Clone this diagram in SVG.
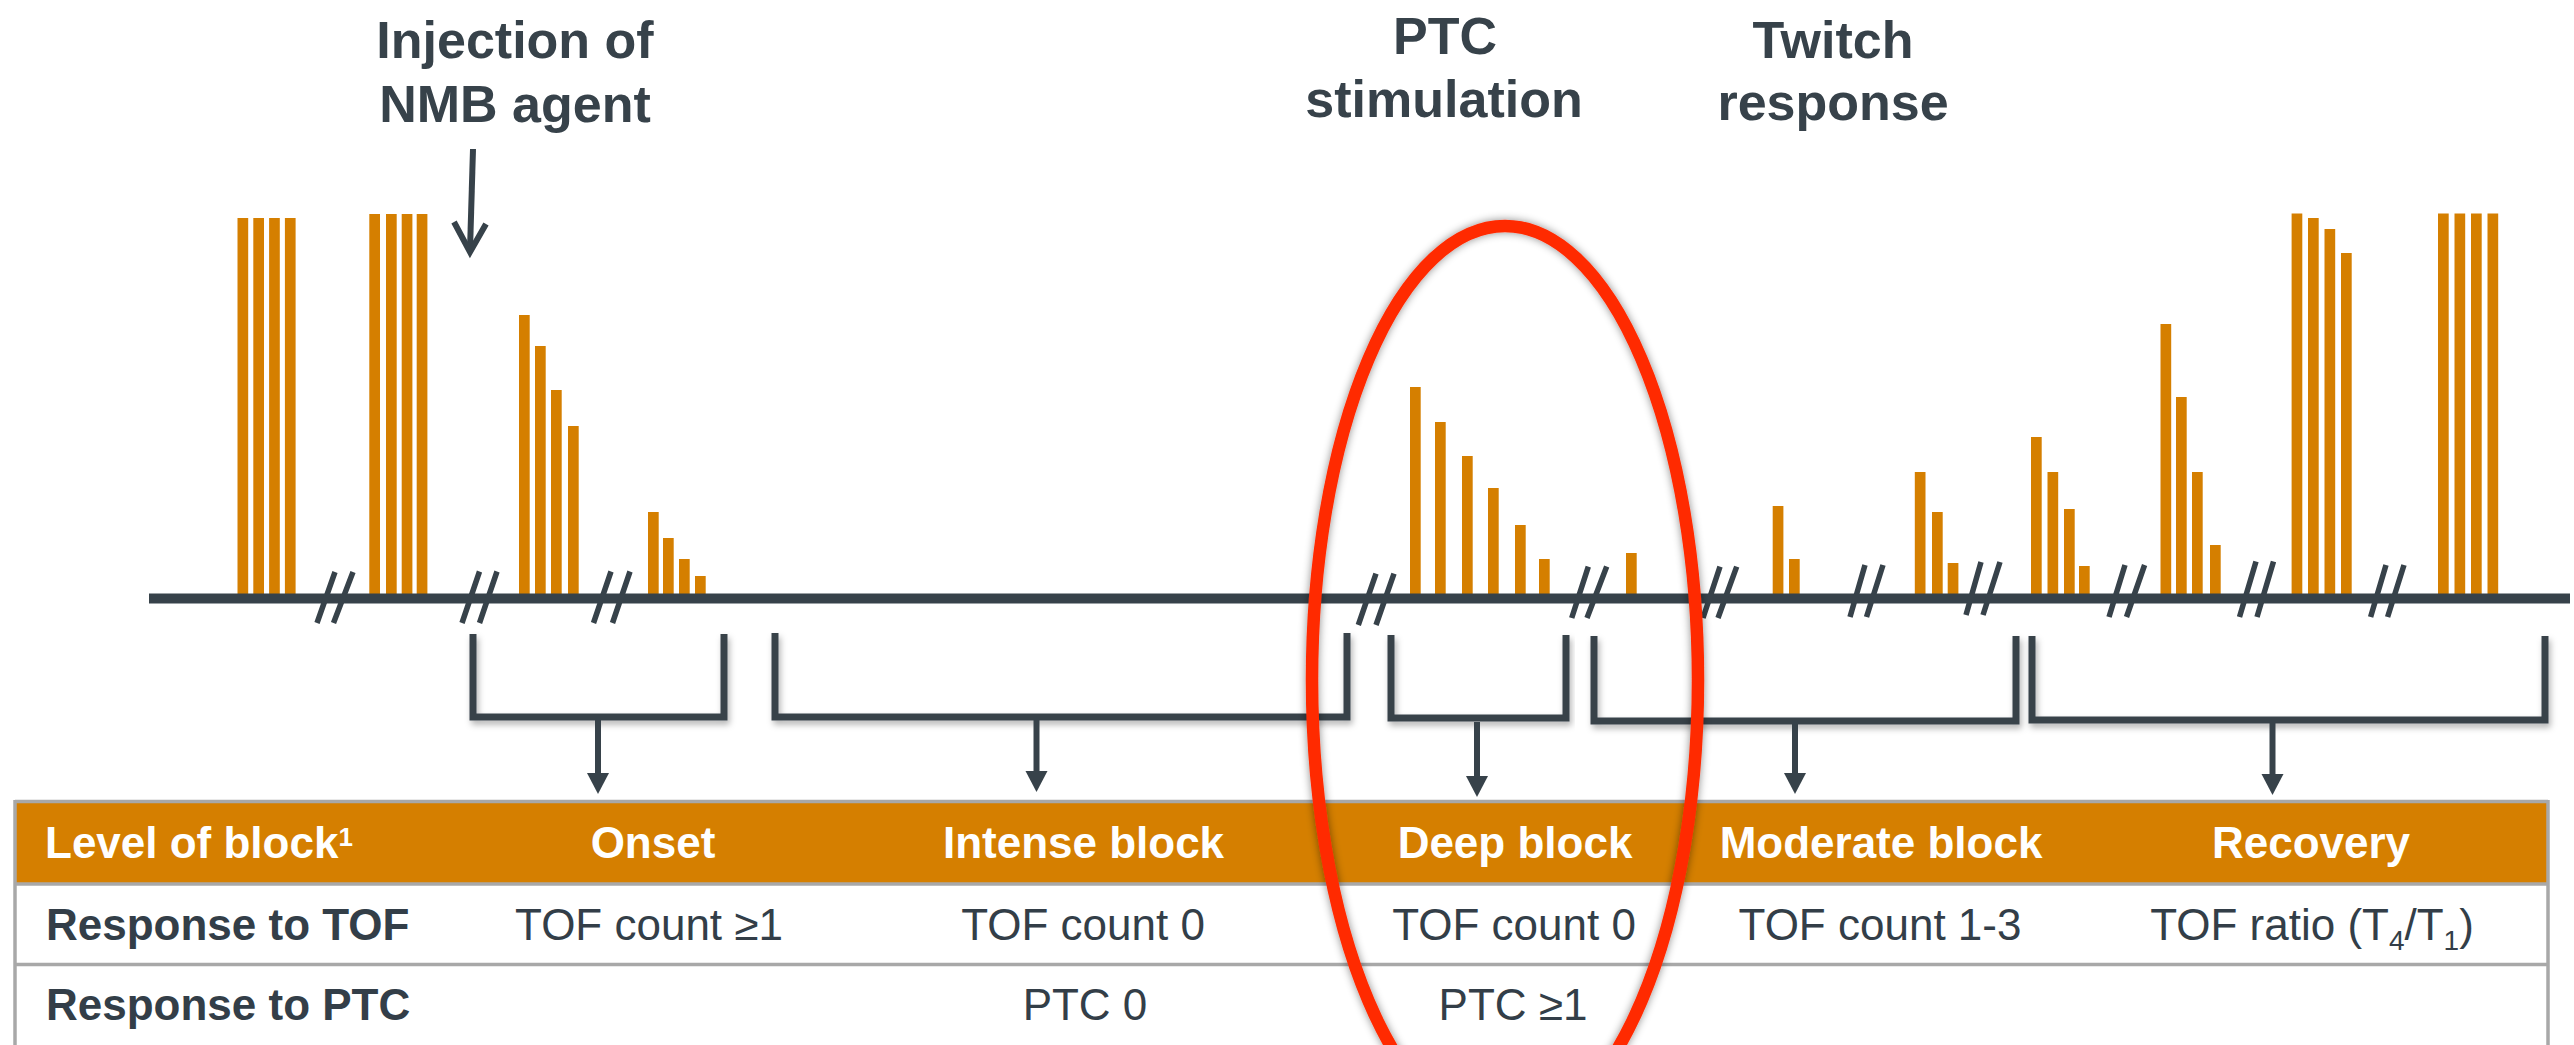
<svg xmlns="http://www.w3.org/2000/svg" width="2574" height="1045" viewBox="0 0 2574 1045">
  <style>
    .bar { fill: #D57F00; }
    .axis { stroke: #37424A; stroke-width: 10; fill: none; }
    .brk { stroke: #37424A; stroke-width: 5.5; fill: none; }
    .bracket { stroke: #37424A; stroke-width: 7; fill: none; stroke-linejoin: miter; filter: url(#shadow); }
    .shaft { stroke: #37424A; stroke-width: 6; fill: none; }
    .head { fill: #37424A; }
    .title { font-family: "Liberation Sans", Arial, sans-serif; font-weight: bold; font-size: 52px; fill: #37424A; text-anchor: middle; }
    .hdr { font-family: "Liberation Sans", Arial, sans-serif; font-weight: bold; font-size: 44px; fill: #FFFFFF; text-anchor: middle; }
    .rowlbl { font-family: "Liberation Sans", Arial, sans-serif; font-weight: bold; font-size: 44px; fill: #333E48; }
    .cell { font-family: "Liberation Sans", Arial, sans-serif; font-size: 44px; fill: #333E48; text-anchor: middle; }
    .grid { stroke: #A8A8A8; stroke-width: 3.5; fill: none; }
  </style>
  <defs>
    <filter id="shadow" x="-5%" y="-20%" width="110%" height="140%">
      <feDropShadow dx="2" dy="4" stdDeviation="3" flood-color="#000" flood-opacity="0.3"/>
    </filter>
    <filter id="glow" x="-20%" y="-20%" width="140%" height="140%">
      <feGaussianBlur in="SourceAlpha" stdDeviation="4" result="b"/>
      <feFlood flood-color="#000" flood-opacity="0.45"/>
      <feComposite in2="b" operator="in" result="s"/>
      <feMerge><feMergeNode in="s"/><feMergeNode in="SourceGraphic"/></feMerge>
    </filter>
  </defs>

  <rect width="2574" height="1045" fill="#FFFFFF"/>

  <!-- Top labels -->
  <g id="label-injection">
    <text class="title" x="515" y="58">Injection of</text>
    <text class="title" x="515" y="122">NMB agent</text>
    <line class="shaft" x1="473" y1="149" x2="470" y2="250"/>
    <polyline class="shaft" points="454,222 470,252 486,224"/>
  </g>
  <g id="label-ptc">
    <text class="title" x="1445" y="54">PTC</text>
    <text class="title" x="1444" y="117">stimulation</text>
  </g>
  <g id="label-twitch">
    <text class="title" x="1833" y="58">Twitch</text>
    <text class="title" x="1833" y="120">response</text>
  </g>

  <!-- Twitch response bars -->
  <g id="bars">
    <rect class="bar" x="237.5" y="218" width="10.7" height="380"/>
    <rect class="bar" x="253.3" y="218" width="10.7" height="380"/>
    <rect class="bar" x="269.1" y="218" width="10.7" height="380"/>
    <rect class="bar" x="284.9" y="218" width="10.7" height="380"/>

    <rect class="bar" x="369.3" y="214" width="10.7" height="384"/>
    <rect class="bar" x="386" y="214" width="10.7" height="384"/>
    <rect class="bar" x="401.7" y="214" width="10.7" height="384"/>
    <rect class="bar" x="416.7" y="214" width="10.7" height="384"/>

    <rect class="bar" x="519" y="315" width="10.7" height="283"/>
    <rect class="bar" x="535" y="346" width="10.7" height="252"/>
    <rect class="bar" x="551" y="390" width="10.7" height="208"/>
    <rect class="bar" x="568" y="426" width="10.7" height="172"/>

    <rect class="bar" x="648" y="512" width="10.7" height="86"/>
    <rect class="bar" x="663" y="538" width="10.7" height="60"/>
    <rect class="bar" x="679" y="559" width="10.7" height="39"/>
    <rect class="bar" x="695" y="576" width="10.7" height="22"/>

    <rect class="bar" x="1410" y="387" width="10.7" height="211"/>
    <rect class="bar" x="1435" y="422" width="10.7" height="176"/>
    <rect class="bar" x="1462" y="456" width="10.7" height="142"/>
    <rect class="bar" x="1488" y="488" width="10.7" height="110"/>
    <rect class="bar" x="1515" y="525" width="10.7" height="73"/>
    <rect class="bar" x="1539" y="559" width="10.7" height="39"/>

    <rect class="bar" x="1626" y="553" width="10.7" height="45"/>

    <rect class="bar" x="1772.7" y="506" width="10.7" height="92"/>
    <rect class="bar" x="1789" y="559" width="10.7" height="39"/>

    <rect class="bar" x="1914.8" y="472" width="10.7" height="126"/>
    <rect class="bar" x="1932" y="512" width="10.7" height="86"/>
    <rect class="bar" x="1947.7" y="563" width="10.7" height="35"/>

    <rect class="bar" x="2031" y="437" width="10.7" height="161"/>
    <rect class="bar" x="2047.5" y="472" width="10.7" height="126"/>
    <rect class="bar" x="2064" y="509" width="10.7" height="89"/>
    <rect class="bar" x="2079" y="566" width="10.7" height="32"/>

    <rect class="bar" x="2160.5" y="324" width="10.7" height="274"/>
    <rect class="bar" x="2176" y="397" width="10.7" height="201"/>
    <rect class="bar" x="2192" y="472" width="10.7" height="126"/>
    <rect class="bar" x="2210" y="545" width="10.7" height="53"/>

    <rect class="bar" x="2291.6" y="213.5" width="10.7" height="384.5"/>
    <rect class="bar" x="2308" y="218" width="10.7" height="380"/>
    <rect class="bar" x="2324.5" y="229" width="10.7" height="369"/>
    <rect class="bar" x="2341" y="253" width="10.7" height="345"/>

    <rect class="bar" x="2438" y="213.5" width="10.7" height="384.5"/>
    <rect class="bar" x="2454.5" y="213.5" width="10.7" height="384.5"/>
    <rect class="bar" x="2471" y="213.5" width="10.7" height="384.5"/>
    <rect class="bar" x="2487.5" y="213.5" width="10.7" height="384.5"/>
  </g>

  <!-- Time axis with break marks -->
  <g id="axis">
    <line class="axis" x1="149" y1="598.5" x2="2570" y2="598.5"/>
    <path class="brk" d="M317,623 L335,572 M333.5,623 L353,572"/>
    <path class="brk" d="M462,623 L479.5,571.5 M479.5,623 L497,571.5"/>
    <path class="brk" d="M593.5,623 L611,571.5 M612.5,623 L630,571.5"/>
    <path class="brk" d="M1358.3,625 L1376,573.6 M1376,625 L1394,573.6"/>
    <path class="brk" d="M1571.7,618 L1588.3,566.6 M1587,618 L1606.7,566.6"/>
    <path class="brk" d="M1703,618 L1720,566.6 M1718,618 L1736.7,566.6"/>
    <path class="brk" d="M1850,617 L1865,565 M1866.5,617 L1883,565"/>
    <path class="brk" d="M1966,615 L1981,562 M1983,615 L2000,562"/>
    <path class="brk" d="M2109,617 L2125,565 M2126.5,617 L2144.6,565"/>
    <path class="brk" d="M2239.5,617 L2256,561.5 M2257,617 L2273.5,561.5"/>
    <path class="brk" d="M2370.6,617 L2386,565 M2387.6,617 L2404,565"/>
  </g>

  <!-- Brackets and arrows to table -->
  <g id="connectors">
    <polyline class="bracket" points="473,634 473,717 724,717 724,634"/>
    <line class="shaft" x1="598" y1="717" x2="598" y2="776"/>
    <polygon class="head" points="587,773 609,773 598,794"/>

    <polyline class="bracket" points="775,633 775,717 1347,717 1347,633"/>
    <line class="shaft" x1="1036.5" y1="717" x2="1036.5" y2="774"/>
    <polygon class="head" points="1025.5,771 1047.5,771 1036.5,792"/>

    <polyline class="bracket" points="1391,635 1391,718 1566,718 1566,635"/>
    <line class="shaft" x1="1477" y1="722" x2="1477" y2="779"/>
    <polygon class="head" points="1466,776 1488,776 1477,797"/>

    <polyline class="bracket" points="1594,636 1594,721 2016,721 2016,636"/>
    <line class="shaft" x1="1795" y1="721" x2="1795" y2="776"/>
    <polygon class="head" points="1784,773 1806,773 1795,794"/>

    <polyline class="bracket" points="2032,636 2032,720 2545,720 2545,636"/>
    <line class="shaft" x1="2272.5" y1="720" x2="2272.5" y2="777"/>
    <polygon class="head" points="2261.5,774 2283.5,774 2272.5,795"/>
  </g>

  <!-- Table -->
  <g id="table">
    <rect x="15" y="802" width="2533" height="81" fill="#D57F00"/>
    <line class="grid" x1="15" y1="801.5" x2="2548" y2="801.5"/>
    <line class="grid" x1="15" y1="884" x2="2548" y2="884"/>
    <line class="grid" x1="15" y1="964.5" x2="2548" y2="964.5"/>
    <line class="grid" x1="15" y1="800" x2="15" y2="1045"/>
    <line class="grid" x1="2548" y1="800" x2="2548" y2="1045"/>

    <text class="hdr" x="45" y="858" text-anchor="start" style="text-anchor:start">Level of block<tspan font-size="26" dy="-12">1</tspan></text>
    <text class="hdr" x="653" y="858">Onset</text>
    <text class="hdr" x="1083.5" y="858">Intense block</text>
    <text class="hdr" x="1515" y="858">Deep block</text>
    <text class="hdr" x="1881" y="858">Moderate block</text>
    <text class="hdr" x="2311" y="858">Recovery</text>

    <text class="rowlbl" x="46" y="939.5">Response to TOF</text>
    <text class="cell" x="649" y="939.5">TOF count ≥1</text>
    <text class="cell" x="1083" y="939.5">TOF count 0</text>
    <text class="cell" x="1514" y="939.5">TOF count 0</text>
    <text class="cell" x="1880" y="939.5">TOF count 1-3</text>
    <text class="cell" x="2312" y="939.5">TOF ratio (T<tspan font-size="28" dy="10">4</tspan><tspan dy="-10">/T</tspan><tspan font-size="28" dy="10">1</tspan><tspan dy="-10">)</tspan></text>

    <text class="rowlbl" x="46" y="1020">Response to PTC</text>
    <text class="cell" x="1085" y="1020">PTC 0</text>
    <text class="cell" x="1513" y="1020">PTC ≥1</text>
  </g>

  <!-- Red highlight ellipse -->
  <g id="highlight">
    <ellipse cx="1505" cy="680" rx="193" ry="454" fill="none" stroke="#FF2A00" stroke-width="12.5" filter="url(#glow)"/>
  </g>
</svg>
